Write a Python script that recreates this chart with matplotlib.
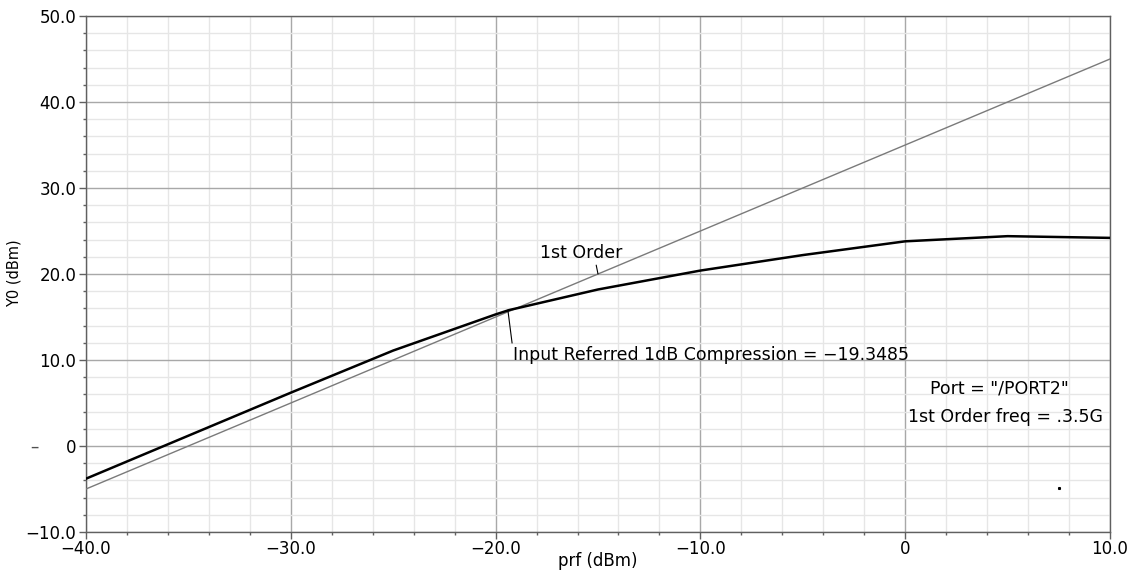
import numpy as np
import matplotlib.pyplot as plt
from matplotlib.ticker import MultipleLocator, FixedLocator

# swept input power (dBm) and simulated output (dBm)
prf = [-40.0, -35.0, -30.0, -25.0, -20.0, -19.35, -15.0, -10.0, -5.0, 0.0, 5.0, 10.0]
y0 = [-3.8, 1.2, 6.2, 11.1, 15.3, 15.8, 18.2, 20.4, 22.2, 23.8, 24.4, 24.2]

# first order (linear) extrapolation
first_x = [-40.0, 10.0]
first_y = [-5.0, 45.0]

# stray marker seen on the plot
dot_x = [7.5]
dot_y = [-4.9]

xticks = [-40, -30, -20, -10, 0, 10]
xlabels = ['\u221240.0', '\u221230.0', '\u221220.0', '\u221210.0', '0', '10.0']
yticks = [-10, 0, 10, 20, 30, 40, 50]
ylabels = ['\u221210.0', '0', '10.0', '20.0', '30.0', '40.0', '50.0']

fig = plt.figure(figsize=(11.38, 5.70), dpi=100)
ax = fig.add_axes([86/1138, 1-532/570, (1110-86)/1138, (532-16)/570])

ax.plot(first_x, first_y, color='#7a7a7a', lw=1.0, zorder=3)
ax.plot(prf, y0, color='black', lw=1.8, zorder=4)
ax.plot(dot_x, dot_y, 's', color='black', ms=1.2, zorder=4)

ax.set_xlim(-40, 10)
ax.set_ylim(-10, 50)
ax.xaxis.set_major_locator(FixedLocator(xticks))
ax.yaxis.set_major_locator(FixedLocator(yticks))
ax.set_xticklabels(xlabels)
ax.set_yticklabels(ylabels)
ax.xaxis.set_minor_locator(MultipleLocator(2))
ax.yaxis.set_minor_locator(MultipleLocator(2))

ax.grid(which='major', color='#a8a8a8', lw=1.0, zorder=1)
ax.grid(which='minor', color='#e6e6e6', lw=1.0, zorder=0)
ax.set_axisbelow(True)

for s in ax.spines.values():
    s.set_color('#606060')
    s.set_linewidth(1.0)

ax.tick_params(axis='both', which='major', labelsize=12, color='#606060', length=5, width=1)
ax.tick_params(axis='both', which='minor', color='#606060', length=2.5, width=1)
ax.tick_params(axis='x', which='major', pad=1)
ax.tick_params(axis='y', which='major', pad=2)

fig.text(598/1138, 1-561/570, 'prf (dBm)', fontsize=12, ha='center', va='center')
fig.text(14/1138, 1-273/570, 'Y0 (dBm)', fontsize=10.5, ha='center', va='center',
         rotation=90)

ax.annotate('1st Order', xy=(-15, 20), xytext=(-17.85, 22.4),
            fontsize=12.5, va='center', ha='left',
            arrowprops=dict(arrowstyle='-', color='black', lw=0.8,
                            shrinkA=0, shrinkB=0, relpos=(0.68, 0.0)))
ax.annotate('Input Referred 1dB Compression = \u221219.3485', xy=(-19.4, 15.8),
            xytext=(-19.15, 10.6), fontsize=12.5, va='center', ha='left',
            arrowprops=dict(arrowstyle='-', color='black', lw=0.8,
                            shrinkA=0, shrinkB=0, relpos=(0.0, 0.75)))
ax.text(1.2, 6.7, 'Port = "/PORT2"', fontsize=12.5, va='center', ha='left')
ax.text(0.15, 3.4, '1st Order freq = .3.5G', fontsize=12.5, va='center', ha='left')
fig.text(34/1138, 1-447/570, '\u2013', fontsize=12, color='#505050', va='center', ha='center')

fig.savefig('out.png', dpi=100)
